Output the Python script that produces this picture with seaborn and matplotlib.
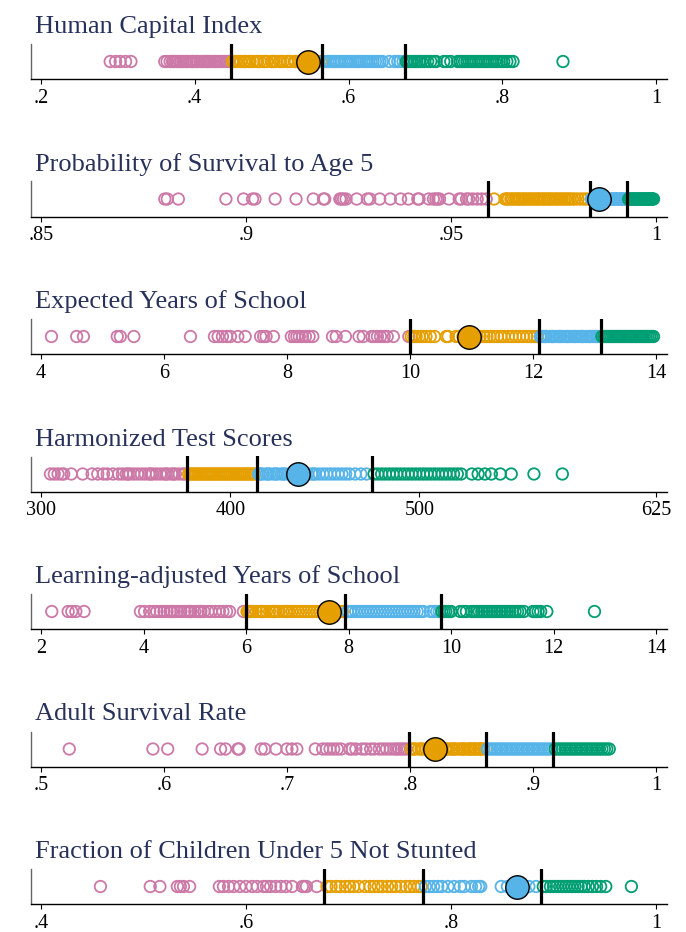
import numpy as np
import pandas as pd
import matplotlib
matplotlib.use("Agg")
import matplotlib.pyplot as plt
import seaborn as sns

# ---------------- data ----------------
titles = [
    "Human Capital Index",
    "Probability of Survival to Age 5",
    "Expected Years of School",
    "Harmonized Test Scores",
    "Learning-adjusted Years of School",
    "Adult Survival Rate",
    "Fraction of Children Under 5 Not Stunted",
]

hci = [0.290, 0.297, 0.303, 0.310, 0.317,
       0.361, 0.364, 0.368, 0.371, 0.372, 0.374, 0.377, 0.380, 0.382, 0.385, 0.388, 0.390,
       0.393, 0.396, 0.397, 0.399, 0.402, 0.404, 0.407, 0.410, 0.412, 0.415, 0.416, 0.418,
       0.420, 0.423, 0.426, 0.428, 0.431, 0.433, 0.436, 0.439, 0.442, 0.444,
       0.449, 0.451, 0.454, 0.457, 0.460, 0.464, 0.466, 0.470, 0.472, 0.476, 0.480, 0.482,
       0.485, 0.490, 0.491, 0.494, 0.500, 0.501, 0.503, 0.506, 0.510, 0.512, 0.515, 0.520,
       0.521, 0.524, 0.530, 0.531, 0.536, 0.539, 0.542, 0.549, 0.552, 0.555, 0.558, 0.561,
       0.564,
       0.567, 0.570, 0.573, 0.576, 0.580, 0.582, 0.585, 0.588, 0.591, 0.594, 0.597, 0.600,
       0.603, 0.606, 0.609, 0.612, 0.614, 0.617, 0.620, 0.623, 0.626, 0.629, 0.632, 0.635,
       0.638, 0.641, 0.644, 0.653, 0.660, 0.664, 0.667, 0.671,
       0.675, 0.677, 0.680, 0.683, 0.686, 0.689, 0.692, 0.695, 0.699, 0.703, 0.707, 0.711,
       0.714, 0.724, 0.728, 0.733, 0.742, 0.745, 0.748, 0.751, 0.754, 0.757, 0.760, 0.763,
       0.766, 0.769, 0.772, 0.775, 0.778, 0.781, 0.784, 0.787, 0.790, 0.793, 0.796, 0.799,
       0.802, 0.806, 0.810, 0.814, 0.879]
hci_cuts = [0.447, 0.565, 0.673]
hci_country = 0.547
hci_ticks = [0.2, 0.4, 0.6, 0.8, 1.0]
hci_labels = [".2", ".4", ".6", ".8", "1"]

psurv = [0.8802, 0.8808, 0.8835, 0.8951, 0.8994, 0.9016, 0.9022, 0.9071, 0.9122, 0.9164,
         0.9189, 0.9192, 0.9229, 0.9233, 0.9238, 0.9244, 0.9270, 0.9296, 0.9302, 0.9326,
         0.9352, 0.9377, 0.9396, 0.9419, 0.9422, 0.9446, 0.9457, 0.9463, 0.9468, 0.9472,
         0.9495, 0.9520, 0.9525, 0.9538, 0.9543, 0.9553, 0.9564, 0.9575, 0.9586,
         0.9605, 0.9632, 0.9636, 0.9640, 0.9646, 0.9650, 0.9655, 0.9660, 0.9664, 0.9668,
         0.9673, 0.9678, 0.9682, 0.9688, 0.9692, 0.9697, 0.9702, 0.9707, 0.9712, 0.9716,
         0.9721, 0.9726, 0.9730, 0.9736, 0.9740, 0.9745, 0.9750, 0.9756, 0.9760, 0.9766,
         0.9770, 0.9776, 0.9780, 0.9786, 0.9790, 0.9796, 0.9802, 0.9810, 0.9818, 0.9826,
         0.9833,
         0.9843, 0.9846, 0.9849, 0.9852, 0.9855, 0.9858, 0.9861, 0.9864, 0.9867, 0.9870,
         0.9873, 0.9876, 0.9879, 0.9882, 0.9885, 0.9888, 0.9890, 0.9893, 0.9896, 0.9899,
         0.9902, 0.9905, 0.9908, 0.9911, 0.9914, 0.9917, 0.9920, 0.9923, 0.9926,
         0.9933, 0.9936, 0.9939, 0.9942, 0.9945, 0.9948, 0.9951, 0.9954, 0.9957, 0.9960,
         0.9963, 0.9965, 0.9968, 0.9970, 0.9972, 0.9975, 0.9977, 0.9980, 0.9982, 0.9984,
         0.9986, 0.9988, 0.9990, 0.9992, 0.9994]
psurv_cuts = [0.959, 0.984, 0.993]
psurv_country = 0.9862
psurv_ticks = [0.85, 0.90, 0.95, 1.0]
psurv_labels = [".85", ".9", ".95", "1"]

eys = [4.17, 4.58, 4.69, 5.24, 5.29, 5.51, 6.43, 6.82, 6.88, 6.95, 7.02, 7.08, 7.20, 7.32,
       7.57, 7.62, 7.66, 7.78, 8.07, 8.12, 8.16, 8.20, 8.25, 8.30, 8.36, 8.42, 8.74, 8.80,
       8.95, 9.17, 9.24, 9.38, 9.42, 9.47, 9.52, 9.58, 9.63, 9.73, 9.98,
       10.02, 10.06, 10.10, 10.15, 10.20, 10.26, 10.33, 10.40, 10.59, 10.62, 10.75, 10.80,
       10.86, 10.92, 10.98, 11.03, 11.08, 11.14, 11.20, 11.25, 11.30, 11.36, 11.42, 11.48,
       11.53, 11.60, 11.66, 11.72, 11.78, 11.84, 11.90, 11.96, 12.02, 12.07,
       12.12, 12.15, 12.18, 12.20, 12.22, 12.26, 12.30, 12.32, 12.34, 12.38, 12.42, 12.44,
       12.46, 12.50, 12.54, 12.56, 12.58, 12.62, 12.66, 12.68, 12.70, 12.74, 12.78, 12.80,
       12.82, 12.86, 12.90, 12.92, 12.94, 12.98, 13.02, 13.04, 13.06,
       13.12, 13.15, 13.18, 13.21, 13.24, 13.27, 13.30, 13.33, 13.36, 13.39, 13.42, 13.45,
       13.48, 13.51, 13.54, 13.57, 13.60, 13.63, 13.66, 13.69, 13.72, 13.75, 13.78, 13.81,
       13.84, 13.87, 13.90, 13.93, 13.96]
eys_cuts = [10.0, 12.1, 13.1]
eys_country = 10.96
eys_ticks = [4, 6, 8, 10, 12, 14]
eys_labels = ["4", "6", "8", "10", "12", "14"]

hts = [305, 307, 309, 311, 312, 316, 322, 327, 330, 333, 335, 338, 341, 343, 345, 346,
       347, 349, 351, 353, 355, 357, 358, 359, 361, 363, 365, 366, 367, 369, 370, 371,
       373, 375, 376,
       378, 379, 380, 381, 382, 383, 384, 385, 386, 387, 388, 389, 390, 391, 392, 393,
       394, 395, 396, 397, 398, 399, 400, 401, 402, 403, 404, 405, 406, 407, 408, 409,
       410, 411, 412, 413,
       415, 416, 417, 419, 420, 421, 423, 424, 425, 427, 428, 429, 431, 432, 433, 437,
       439, 440, 441, 443, 444, 445, 447, 449, 451, 453, 455, 457, 459, 461, 463, 466,
       469, 472,
       476, 478, 480, 482, 484, 486, 488, 490, 492, 494, 496, 498, 500, 502, 504, 506,
       508, 510, 512, 514, 516, 518, 520, 522, 527.7, 531, 534.6, 538, 542.7, 548.5,
       560.5, 575.5]
hts_cuts = [377, 414, 474.7]
hts_country = 436
hts_ticks = [300, 400, 500, 625]
hts_labels = ["300", "400", "500", "625"]

lays = [2.21, 2.53, 2.60, 2.68, 2.84, 3.94, 4.02, 4.12, 4.20, 4.26, 4.33, 4.40, 4.46,
        4.52, 4.55, 4.60, 4.66, 4.73, 4.80, 4.86, 4.90, 4.93, 5.00, 5.06, 5.10, 5.12,
        5.18, 5.26, 5.32, 5.40, 5.48, 5.55, 5.62, 5.68, 5.95,
        6.02, 6.05, 6.08, 6.14, 6.20, 6.27, 6.30, 6.33, 6.40, 6.46, 6.52, 6.55, 6.58,
        6.65, 6.72, 6.78, 6.80, 6.84, 6.90, 6.96, 7.02, 7.08, 7.14, 7.20, 7.26, 7.32,
        7.38, 7.44, 7.50, 7.56, 7.70, 7.76, 7.82, 7.88,
        7.98, 8.03, 8.08, 8.14, 8.20, 8.26, 8.32, 8.38, 8.44, 8.50, 8.56, 8.62, 8.68,
        8.74, 8.80, 8.86, 8.92, 8.98, 9.04, 9.10, 9.16, 9.22, 9.28, 9.34, 9.40, 9.46,
        9.60, 9.66, 9.72, 9.77,
        9.82, 9.86, 9.90, 9.95, 10.00, 10.18, 10.24, 10.30, 10.40, 10.45, 10.50, 10.55,
        10.60, 10.65, 10.70, 10.75, 10.80, 10.85, 10.90, 10.95, 11.00, 11.05, 11.10,
        11.15, 11.20, 11.25, 11.30, 11.35, 11.42, 11.60, 11.65, 11.70, 11.75, 11.87, 12.80]
lays_cuts = [6.0, 7.94, 9.8]
lays_country = 7.62
lays_ticks = [2, 4, 6, 8, 10, 12, 14]
lays_labels = ["2", "4", "6", "8", "10", "12", "14"]

asr = [0.523, 0.591, 0.603, 0.631, 0.646, 0.650, 0.660, 0.661, 0.679, 0.682, 0.691,
       0.700, 0.704, 0.708, 0.723, 0.729, 0.732, 0.735, 0.738, 0.741, 0.744, 0.751, 0.753,
       0.756, 0.761, 0.764, 0.768, 0.771, 0.775, 0.778, 0.781, 0.784, 0.787, 0.789, 0.791,
       0.793, 0.795, 0.797,
       0.801, 0.803, 0.804, 0.807, 0.809, 0.810, 0.813, 0.815, 0.816, 0.819, 0.823, 0.826,
       0.829, 0.830, 0.832, 0.834, 0.835, 0.836, 0.838, 0.840, 0.842, 0.843, 0.844, 0.846,
       0.848, 0.849, 0.850, 0.852, 0.853, 0.854, 0.856, 0.857, 0.858, 0.860,
       0.863, 0.865, 0.867, 0.869, 0.871, 0.873, 0.875, 0.877, 0.879, 0.881, 0.883, 0.885,
       0.887, 0.889, 0.891, 0.893, 0.895, 0.897, 0.899, 0.901, 0.903, 0.905, 0.907, 0.909,
       0.911, 0.913, 0.915,
       0.918, 0.920, 0.922, 0.924, 0.926, 0.928, 0.930, 0.932, 0.934, 0.936, 0.938, 0.940,
       0.942, 0.944, 0.946, 0.948, 0.950, 0.952, 0.954, 0.956, 0.958, 0.960, 0.962]
asr_cuts = [0.799, 0.862, 0.9165]
asr_country = 0.8205
asr_ticks = [0.5, 0.6, 0.7, 0.8, 0.9, 1.0]
asr_labels = [".5", ".6", ".7", ".8", ".9", "1"]

nstunt = [0.458, 0.5066, 0.516, 0.533, 0.536, 0.539, 0.545, 0.574, 0.578, 0.583, 0.588,
          0.594, 0.600, 0.606, 0.611, 0.617, 0.620, 0.624, 0.629, 0.634, 0.639, 0.645,
          0.655, 0.657, 0.659, 0.669,
          0.679, 0.683, 0.688, 0.692, 0.697, 0.701, 0.705, 0.710, 0.716, 0.721, 0.725,
          0.729, 0.733, 0.738, 0.742, 0.746, 0.751, 0.756, 0.760, 0.764, 0.768, 0.771,
          0.775, 0.779, 0.783, 0.787, 0.791, 0.797, 0.803, 0.809, 0.813, 0.820, 0.824,
          0.827, 0.829, 0.849, 0.855, 0.876, 0.883,
          0.890, 0.893, 0.897, 0.900, 0.903, 0.906, 0.909, 0.912, 0.915, 0.918, 0.921,
          0.924, 0.927, 0.930, 0.934, 0.938, 0.942, 0.946, 0.951, 0.976]
nstunt_cuts = [0.676, 0.773, 0.888]
nstunt_country = 0.8644
nstunt_ticks = [0.4, 0.6, 0.8, 1.0]
nstunt_labels = [".4", ".6", ".8", "1"]

group_names = ["Q1", "Q2", "Q3", "Q4"]
group_colors = ["#CC79A7", "#E69F00", "#56B4E9", "#009E73"]

panels = [
    (hci, hci_cuts, hci_country, hci_ticks, hci_labels),
    (psurv, psurv_cuts, psurv_country, psurv_ticks, psurv_labels),
    (eys, eys_cuts, eys_country, eys_ticks, eys_labels),
    (hts, hts_cuts, hts_country, hts_ticks, hts_labels),
    (lays, lays_cuts, lays_country, lays_ticks, lays_labels),
    (asr, asr_cuts, asr_country, asr_ticks, asr_labels),
    (nstunt, nstunt_cuts, nstunt_country, nstunt_ticks, nstunt_labels),
]

# ---------------- style ----------------
sns.set_theme(style="white")
plt.rcParams["font.family"] = ["Liberation Serif", "DejaVu Serif"]

W, H = 686, 932
fig = plt.figure(figsize=(W / 100, H / 100), dpi=100)
palette = dict(zip(group_names, group_colors))

AX_L, AX_R = 31, 667          # pixel extents of axes
T0_PX, T1_PX = 41, 656        # pixel positions of first / last tick
AX_H = 35

for i, (title, (vals, cuts, country, ticks, labels)) in enumerate(zip(titles, panels)):
    bottom_px = 79 + 137.5 * i
    top_px = bottom_px - AX_H
    ax = fig.add_axes([AX_L / W, 1 - bottom_px / H, (AX_R - AX_L) / W, AX_H / H])

    vals = np.asarray(vals, dtype=float)
    gidx = np.searchsorted(cuts, vals)
    df = pd.DataFrame({"value": vals, "y": np.zeros(len(vals)),
                       "group": [group_names[g] for g in gidx]})
    sns.scatterplot(data=df, x="value", y="y", hue="group", hue_order=group_names,
                    palette=palette, s=68, linewidth=1.3, legend=False, ax=ax, zorder=2)
    coll = ax.collections[-1]
    fcs = coll.get_facecolors()
    coll.set_edgecolors(fcs)
    coll.set_facecolors("none")

    for c in cuts:
        ax.axvline(c, color="black", lw=2.3, zorder=3)

    cg = group_names[int(np.searchsorted(cuts, country))]
    ax.scatter([country], [0], s=285, color=palette[cg], edgecolor="black",
               linewidth=1.0, zorder=4)

    span = ticks[-1] - ticks[0]
    ppu = (T1_PX - T0_PX) / span
    ax.set_xlim(ticks[0] - (T0_PX - AX_L) / ppu, ticks[-1] + (AX_R - T1_PX) / ppu)
    ax.set_ylim(-1, 1)
    ax.set_xticks(ticks)
    ax.set_xticklabels(labels)
    ax.set_yticks([])
    ax.set_xlabel("")
    ax.set_ylabel("")

    for s in ["top", "right"]:
        ax.spines[s].set_visible(False)
    ax.spines["left"].set_color("#666666")
    ax.spines["left"].set_linewidth(1.0)
    ax.spines["bottom"].set_color("black")
    ax.spines["bottom"].set_linewidth(1.0)
    ax.tick_params(axis="x", bottom=True, direction="out", length=3.5, width=0.8,
                   color="black", pad=3.5, labelsize=14.5, labelcolor="black")

    fig.text(35 / W, 1 - (top_px - 11) / H, title, fontsize=19, color="#27315a",
             ha="left", va="baseline")

fig.savefig("out.png", dpi=100)
